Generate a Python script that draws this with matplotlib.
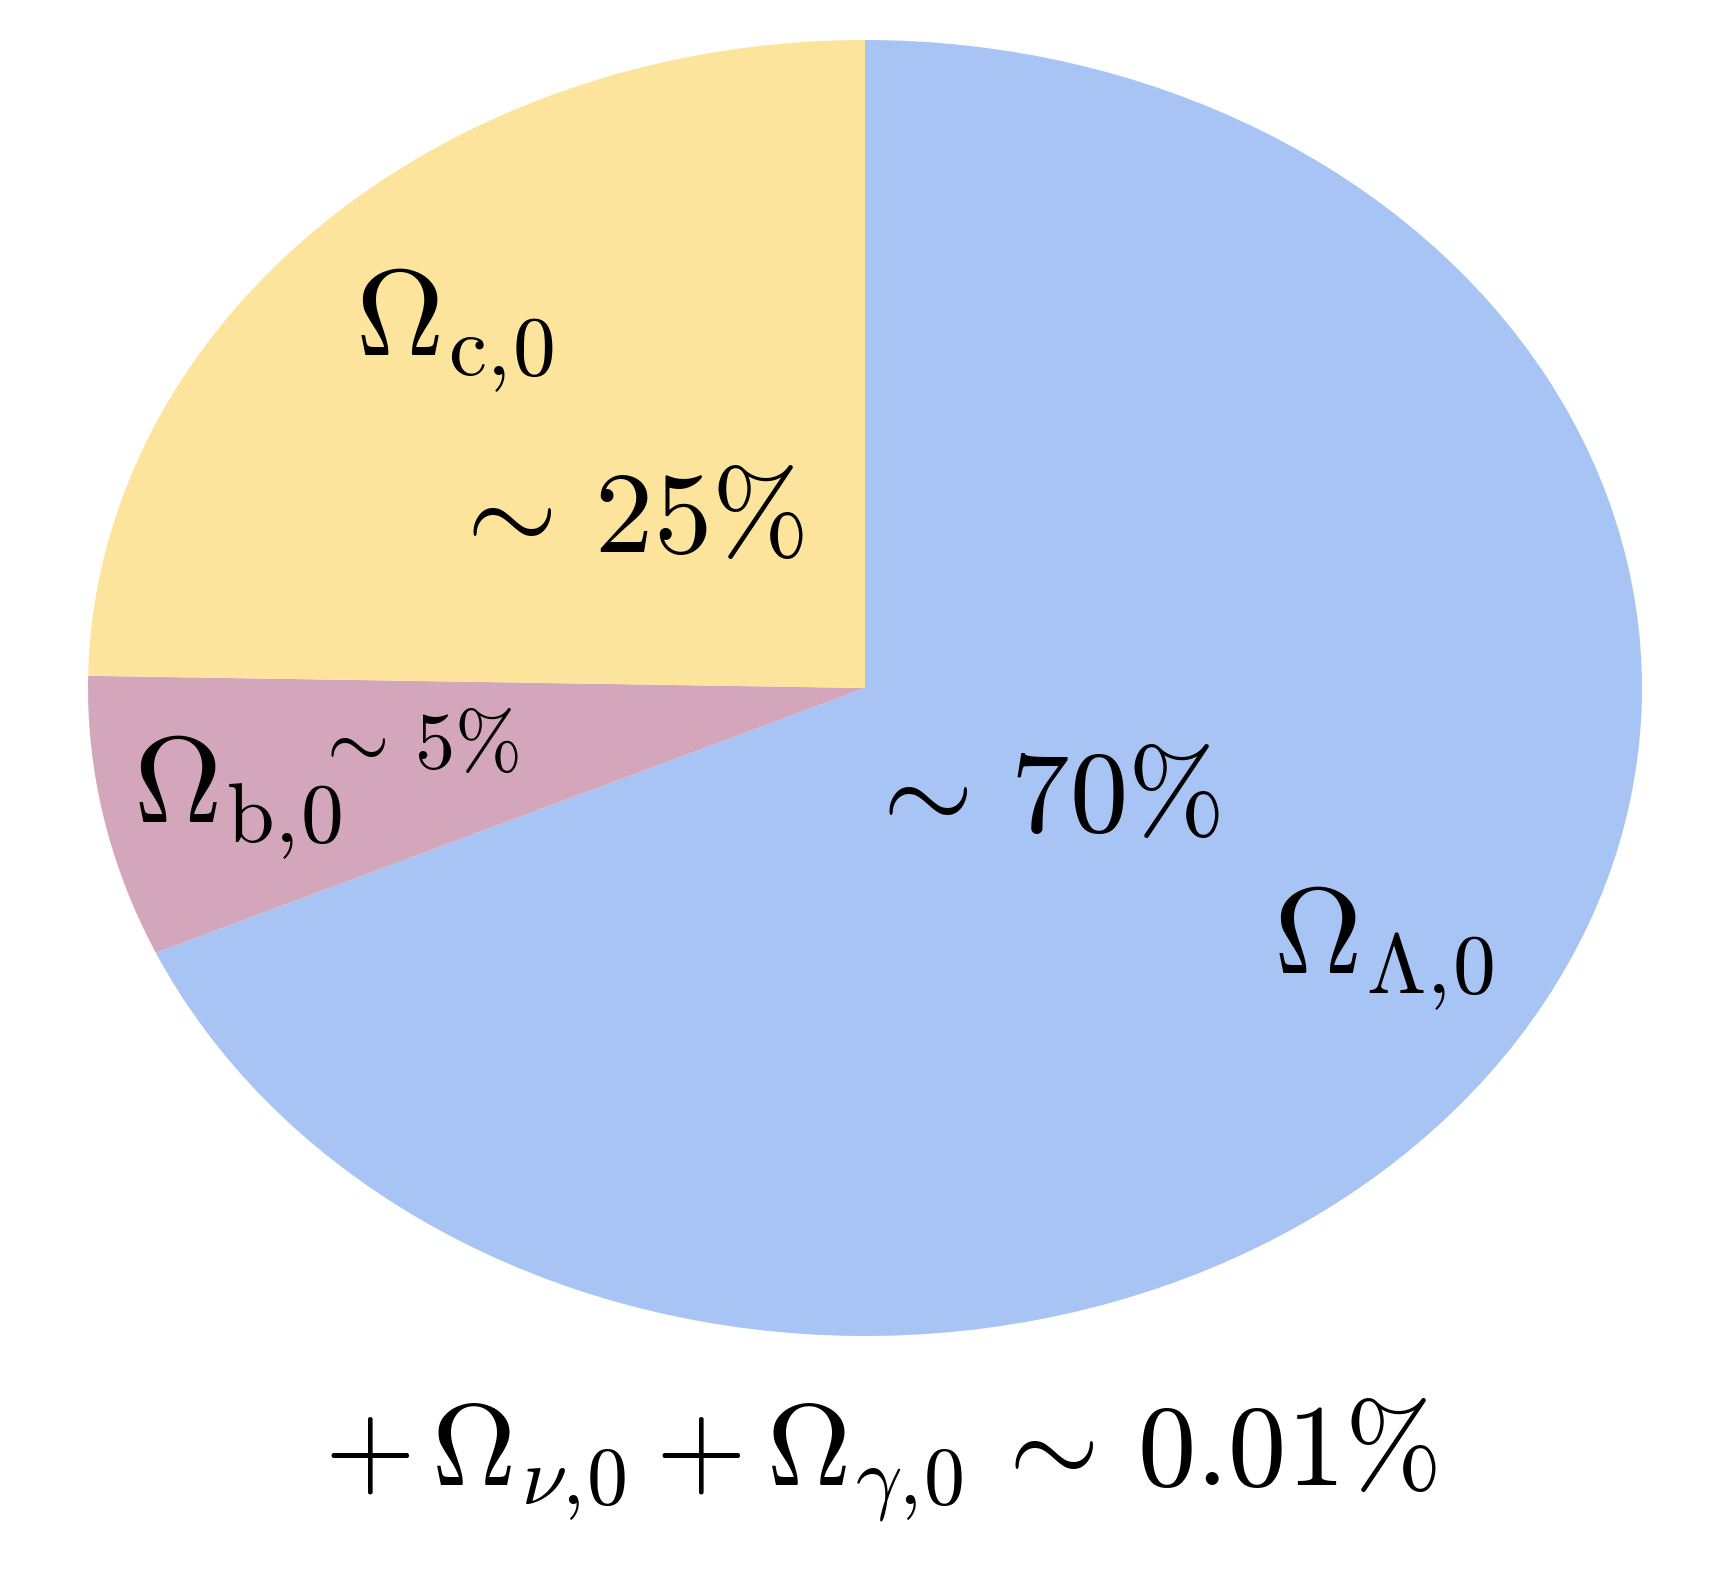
import matplotlib
matplotlib.use("Agg")
import matplotlib.pyplot as plt

plt.rcParams['mathtext.fontset'] = 'cm'

# Data (slice angles)
components = ['Lambda', 'baryons', 'cdm']
shares = [68.3, 7.0, 24.7]
colors = ['#a7c4f4', '#d4a6bc', '#fde49c']

fig = plt.figure(figsize=(17.14, 15.84), dpi=100)
ax = fig.add_axes([0, 0, 1, 1])
ax.pie(shares, colors=colors, startangle=90, counterclock=False,
       wedgeprops=dict(linewidth=0))
ax.set_aspect('auto')

W, H = 1714, 1584
cx, cy, rx, ry = 865, 688, 777, 648
ax.set_xlim(-cx / rx, (W - cx) / rx)
ax.set_ylim(-(H - cy) / ry, cy / ry)
ax.axis('off')

def px(x, y):
    return ((x - cx) / rx, (cy - y) / ry)

omega_fs = 88
pct_fs = 84
small = 58
ax.text(*px(355, 355), r'$\Omega_{\mathrm{c},\!0}$', fontsize=omega_fs, ha='left', va='baseline')
ax.text(*px(446, 552), r'$\sim\,25\%$', fontsize=pct_fs, ha='left', va='baseline')
ax.text(*px(133, 822), r'$\Omega_{\mathrm{b},\!0}$', fontsize=omega_fs, ha='left', va='baseline')
ax.text(*px(312, 768), r'$\sim\,5\%$', fontsize=small, ha='left', va='baseline')
ax.text(*px(862, 831), r'$\sim\,70\%$', fontsize=pct_fs, ha='left', va='baseline')
ax.text(*px(1273, 973), r'$\Omega_{\Lambda,\!0}$', fontsize=omega_fs, ha='left', va='baseline')
ax.text(*px(324, 1485), r'$+\,\Omega_{\nu,\!0}+\Omega_{\gamma,\!0}\,\sim\,0.01\%$', fontsize=84,
        ha='left', va='baseline')

fig.savefig('out.png', dpi=100, facecolor='white')
